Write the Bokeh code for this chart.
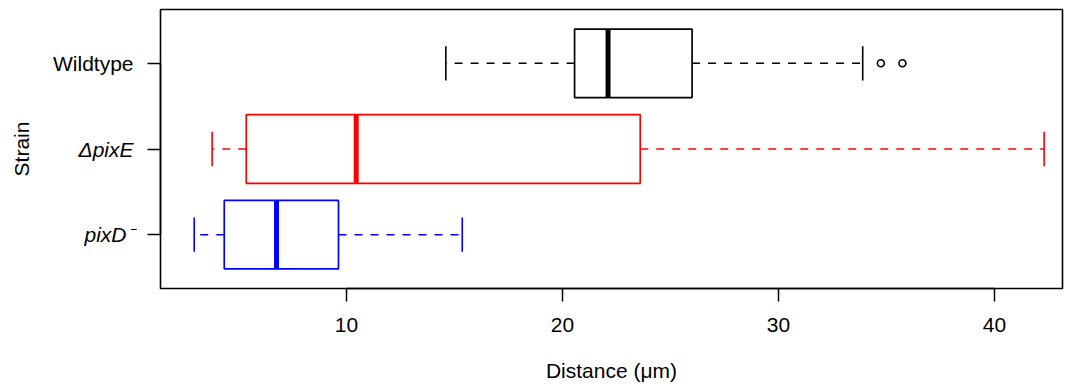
import math
from bokeh.plotting import figure
from bokeh.layouts import row
from bokeh.models import FixedTicker, ColumnDataSource, Range1d
from bokeh.core.properties import value
from bokeh.embed import file_html
from bokeh.resources import INLINE

# ---- data ----
strains = ["Wildtype", "ΔpixE", "pixD⁻"]
positions = [3, 2, 1]
colors = ["black", "red", "blue"]
label_styles = ["normal", "italic", "italic"]
whisker_low = [14.6, 3.78, 2.95]
q1 = [20.56, 5.36, 4.34]
median = [22.11, 10.45, 6.76]
q3 = [26.0, 23.6, 9.63]
whisker_high = [33.9, 42.3, 15.36]
outlier_values = [34.74, 35.74]
outlier_strain_index = [0, 0]
x_ticks = [10, 20, 30, 40]

FONT = "Liberation Sans"
FS = "21px"
BOX_H = 0.8
CAP_H = 0.4
H = 390
TOP, BOTTOM = 9, 102
LEFT_W = 140

y_range = Range1d(0.372, 3.628)

src = ColumnDataSource(dict(
    pos=positions, color=colors, lo=whisker_low, q1=q1, med=median, q3=q3, hi=whisker_high,
    box_bot=[p - BOX_H / 2 for p in positions], box_top=[p + BOX_H / 2 for p in positions],
    cap_bot=[p - CAP_H / 2 for p in positions], cap_top=[p + CAP_H / 2 for p in positions],
))
out_src = ColumnDataSource(dict(
    x=outlier_values,
    y=[positions[i] for i in outlier_strain_index],
    color=[colors[i] for i in outlier_strain_index],
))

# ---------- left panel: strain names and y title ----------
lab = figure(width=LEFT_W, height=H, output_backend="svg", toolbar_location=None,
             x_range=Range1d(0, 100), y_range=y_range, x_axis_location=None,
             min_border_left=40, min_border_right=0, min_border_top=TOP, min_border_bottom=BOTTOM)
lab.grid.visible = False
lab.outline_line_color = None
lab.border_fill_color = "white"
lab.background_fill_color = "white"
ly = lab.yaxis[0]
ly.ticker = FixedTicker(ticks=[])
ly.major_tick_line_color = None
ly.minor_tick_line_color = None
ly.axis_line_color = None
ly.major_label_text_font_size = "0px"
ly.axis_label = "Strain"
ly.axis_label_text_font = FONT
ly.axis_label_text_font_size = FS
ly.axis_label_text_font_style = "normal"
ly.axis_label_text_color = "black"
ly.axis_label_standoff = 8

for style in ("normal", "italic"):
    idx = [i for i, s in enumerate(label_styles) if s == style]
    lab.text(x=[93] * len(idx), y=[positions[i] for i in idx], text=[strains[i] for i in idx],
             text_align="right", text_baseline="middle", text_font=value(FONT),
             text_font_size=FS, text_font_style=style, text_color="black")

# ---------- main plot ----------
p = figure(width=1064 - LEFT_W, height=H, output_backend="svg", toolbar_location=None,
           x_range=Range1d(1.389, 43.15), y_range=y_range,
           min_border_left=20, min_border_right=2, min_border_top=TOP, min_border_bottom=BOTTOM)

p.segment(x0="q1", y0="pos", x1="lo", y1="pos", line_color="color", line_width=1.5,
          line_dash="8 8", source=src)
p.segment(x0="q3", y0="pos", x1="hi", y1="pos", line_color="color", line_width=1.5,
          line_dash="8 8", source=src)
p.segment(x0="lo", y0="cap_bot", x1="lo", y1="cap_top", line_color="color", line_width=1.6, source=src)
p.segment(x0="hi", y0="cap_bot", x1="hi", y1="cap_top", line_color="color", line_width=1.6, source=src)
p.hbar(y="pos", height=BOX_H, left="q1", right="q3", fill_color="white",
       line_color="color", line_width=1.7, source=src)
p.segment(x0="med", y0="box_bot", x1="med", y1="box_top", line_color="color", line_width=5,
          source=src)
p.scatter(x="x", y="y", marker="circle", size=7, fill_color="white", line_color="color",
          line_width=1.6, source=out_src)

p.grid.visible = False
p.outline_line_color = "black"
p.outline_line_width = 1.6
p.outline_line_alpha = 1.0
p.background_fill_color = "white"
p.border_fill_color = "white"

xa = p.xaxis[0]
xa.ticker = FixedTicker(ticks=x_ticks)
xa.bounds = (x_ticks[0], x_ticks[-1])
xa.minor_tick_line_color = None
xa.major_tick_in = 0
xa.major_tick_out = 13
xa.major_tick_line_width = 1.5
xa.axis_line_width = 1.5
xa.major_label_text_font = FONT
xa.major_label_text_font_size = FS
xa.major_label_text_color = "black"
xa.major_label_standoff = 16
xa.axis_label = "Distance (μm)"
xa.axis_label_text_font = FONT
xa.axis_label_text_font_size = FS
xa.axis_label_text_font_style = "normal"
xa.axis_label_text_color = "black"
xa.axis_label_standoff = 24

ya = p.yaxis[0]
ya.ticker = FixedTicker(ticks=positions)
ya.bounds = (min(positions), max(positions))
ya.major_label_overrides = {pos: "" for pos in positions}
ya.major_label_text_font_size = "0px"
ya.minor_tick_line_color = None
ya.major_tick_in = 0
ya.major_tick_out = 13
ya.major_tick_line_width = 1.5
ya.axis_line_width = 1.5
ya.major_label_standoff = 0

layout = row(lab, p, spacing=0)
open("out.html", "w").write(file_html(layout, INLINE))
